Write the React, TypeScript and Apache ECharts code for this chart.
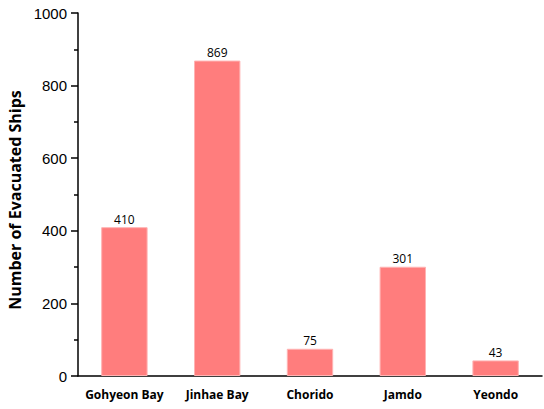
import React, { useEffect, useRef } from "react";
import * as echarts from "echarts";

const categories = ["Gohyeon Bay", "Jinhae Bay", "Chorido", "Jamdo", "Yeondo"];
const ships = [410, 869, 75, 301, 43];

export default function App() {
  const ref = useRef<HTMLDivElement>(null);
  useEffect(() => {
    const chart = echarts.init(ref.current!, null, { renderer: "svg" });
    chart.setOption({
      animation: false,
      grid: { left: 78, right: 2, top: 13, bottom: 33, containLabel: false, outerBoundsMode: "none" },
      xAxis: {
        type: "category",
        data: categories,
        axisLine: { lineStyle: { color: "#000", width: 1.5 } },
        axisTick: { show: false },
        axisLabel: {
          interval: 0,
          color: "#000",
          fontFamily: "Open Sans",
          fontWeight: "bold",
          fontSize: 12,
          margin: 12,
        },
      },
      yAxis: {
        type: "value",
        min: 0,
        max: 1000,
        interval: 200,
        name: "Number of Evacuated Ships",
        nameLocation: "middle",
        nameGap: 55,
        nameTextStyle: {
          color: "#000",
          fontFamily: "Open Sans",
          fontWeight: "bold",
          fontSize: 16,
          padding: [0, 11, 0, 0],
        },
        axisLine: { show: true, lineStyle: { color: "#000", width: 1.5 } },
        axisTick: { show: true, inside: false, length: 7, lineStyle: { color: "#000", width: 1.5 } },
        minorTick: { show: true, splitNumber: 2, length: 4, lineStyle: { color: "#000", width: 1.5 } },
        splitLine: { show: false },
        axisLabel: {
          color: "#000",
          fontFamily: "Liberation Sans",
          fontSize: 15,
          margin: 11,
          formatter: (v: number) => String(v),
        },
      },
      series: [
        {
          type: "bar",
          data: ships,
          barWidth: "50%",
          itemStyle: { color: "#FF7D7D", borderColor: "#FFB3B3", borderWidth: 1 },
          label: {
            show: true,
            position: "top",
            distance: 2,
            color: "#000",
            fontFamily: "Open Sans",
            fontSize: 12,
          },
        },
      ],
    });
    return () => chart.dispose();
  }, []);
  return <div ref={ref} style={{ width: 544, height: 409, position: "absolute", left: 0, top: 0 }} />;
}
